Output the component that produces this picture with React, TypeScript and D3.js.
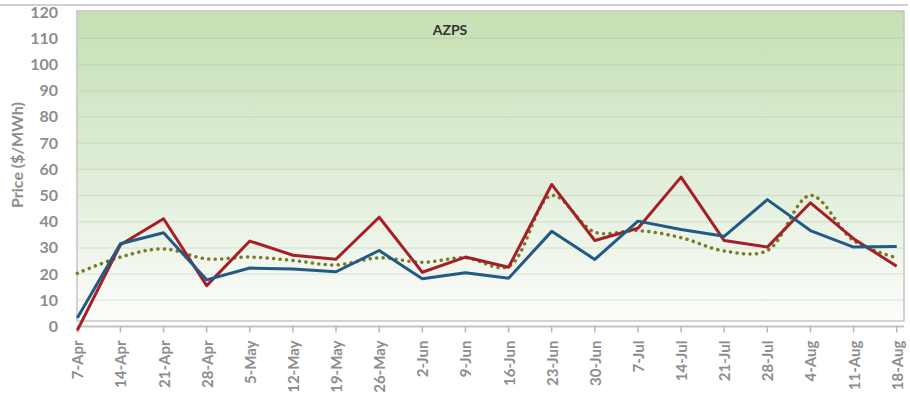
import React from 'react'
import * as d3 from 'd3'

// weekly categories (x axis)
const categories = [
  '7-Apr', '14-Apr', '21-Apr', '28-Apr', '5-May', '12-May', '19-May', '26-May',
  '2-Jun', '9-Jun', '16-Jun', '23-Jun', '30-Jun', '7-Jul', '14-Jul', '21-Jul',
  '28-Jul', '4-Aug', '11-Aug', '18-Aug',
]

// blue solid line
const blueValues = [
  3.2, 31.6, 35.8, 17.8, 22.3, 21.9, 20.9, 29.0, 18.2, 20.5,
  18.4, 36.3, 25.6, 40.2, 37.0, 34.4, 48.4, 36.6, 30.3, 30.5,
]

// red solid line
const redValues = [
  -1.5, 31.2, 41.1, 15.6, 32.6, 27.2, 25.7, 41.7, 20.7, 26.5,
  22.6, 54.2, 32.8, 37.5, 57.0, 32.8, 30.3, 47.2, 33.5, 23.0,
]

// olive dotted (smoothed) line
const dottedValues = [
  20.3, 26.5, 29.6, 25.8, 26.5, 25.2, 23.5, 26.2, 24.5, 26.2,
  22.9, 50.0, 36.0, 36.6, 33.9, 28.8, 29.0, 50.0, 32.8, 26.2,
]

const yTicks = [0, 10, 20, 30, 40, 50, 60, 70, 80, 90, 100, 110, 120]

const W = 910
const H = 404
const labelFont = 'Lato, "Open Sans", sans-serif'
const gray = '#8d8d8d'

export default function App() {
  const x = d3.scalePoint<string>().domain(categories).range([77.3, 896.7])
  const y = d3.scaleLinear().domain([0, 120]).range([326.5, 12])

  const panel = { left: 77, top: 11, right: 904, bottom: 321 }

  const straight = d3
    .line<number>()
    .x((d, i) => x(categories[i]) as number)
    .y((d) => y(d))

  const smooth = d3
    .line<number>()
    .x((d, i) => x(categories[i]) as number)
    .y((d) => y(d))
    .curve(d3.curveCatmullRom.alpha(0.5))

  return (
    <svg
      width={W}
      height={H}
      style={{ position: 'absolute', left: 0, top: 0, background: '#fff' }}
    >
      <defs>
        <linearGradient id="plotBg" x1="0" y1="0" x2="0" y2="1">
          <stop offset="0%" stopColor="#c6e0b3" />
          <stop offset="50%" stopColor="#deecd6" />
          <stop offset="100%" stopColor="#fcfdfb" />
        </linearGradient>
      </defs>

      {/* thin rule across the top */}
      <line x1={0} x2={908} y1={5} y2={5} stroke="#d2d2d2" strokeWidth={2} />

      {/* plot area */}
      <rect
        x={panel.left}
        y={panel.top}
        width={panel.right - panel.left}
        height={panel.bottom - panel.top}
        fill="url(#plotBg)"
        stroke="#c4c4c4"
        strokeWidth={1.5}
      />

      {/* gridlines */}
      {yTicks
        .filter((t) => t > 0 && t < 120)
        .map((t) => (
          <line
            key={'g' + t}
            x1={panel.left + 1}
            x2={panel.right - 1}
            y1={y(t)}
            y2={y(t)}
            stroke="#9aa58f"
            strokeOpacity={0.2}
            strokeWidth={1.5}
          />
        ))}

      {/* title */}
      <text
        x={450}
        y={35}
        textAnchor="middle"
        fontFamily={labelFont}
        fontWeight={700}
        fontSize={14}
        fill="#333"
      >
        AZPS
      </text>

      {/* x axis */}
      <line
        x1={panel.left}
        x2={panel.right}
        y1={y(0)}
        y2={y(0)}
        stroke="#c4c4c4"
        strokeWidth={2}
      />
      {categories.map((c) => (
        <g key={c} transform={'translate(' + x(c) + ',' + y(0) + ')'}>
          <line y1={0} y2={6} stroke="#b8b8b8" strokeWidth={1.5} />
          <text
            transform="translate(6,14) rotate(-90)"
            textAnchor="end"
            fontFamily={labelFont}
            fontWeight={700}
            fontSize={15}
            fill={gray}
          >
            {c}
          </text>
        </g>
      ))}

      {/* y axis labels */}
      {yTicks.map((t) => (
        <text
          key={'y' + t}
          x={58}
          y={y(t) + 5.5}
          textAnchor="end"
          fontFamily={labelFont}
          fontWeight={700}
          fontSize={16}
          fill={gray}
        >
          {t}
        </text>
      ))}
      <text
        transform="translate(23,155) rotate(-90)"
        textAnchor="middle"
        fontFamily={labelFont}
        fontWeight={700}
        fontSize={16}
        fill={gray}
      >
        Price ($/MWh)
      </text>

      {/* series */}
      <path
        d={smooth(dottedValues) || ''}
        fill="none"
        stroke="#7a7a26"
        strokeWidth={3.5}
        strokeLinecap="round"
        strokeDasharray="0.1 6.4"
      />
      <path
        d={straight(redValues) || ''}
        fill="none"
        stroke="#a61f28"
        strokeWidth={3}
        strokeLinejoin="round"
      />
      <path
        d={straight(blueValues) || ''}
        fill="none"
        stroke="#225a86"
        strokeWidth={3}
        strokeLinejoin="round"
      />
    </svg>
  )
}
